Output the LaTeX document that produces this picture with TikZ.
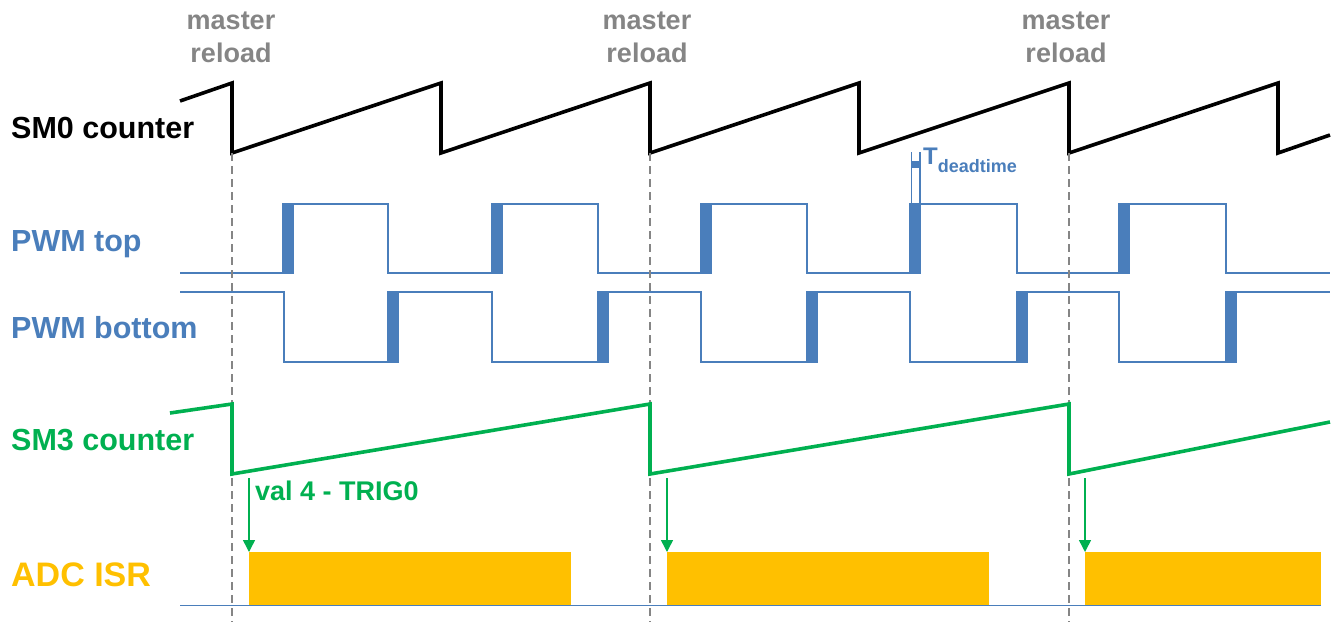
\documentclass[tikz,border=0pt]{standalone}
\usepackage{fontspec}
\setmainfont{Liberation Sans}
\usetikzlibrary{arrows.meta}
\definecolor{pwmblue}{HTML}{4A7EBB}
\definecolor{smgreen}{HTML}{00B050}
\definecolor{adcyellow}{HTML}{FFC000}
\definecolor{mgray}{HTML}{858585}
\tikzset{
  lbl/.style={anchor=base west, inner sep=0pt, font=\bfseries\fontsize{30.5}{31}\selectfont},
  reloadlbl/.style={anchor=base, inner sep=0pt, align=center, text=mgray, font=\bfseries\fontsize{27}{33}\selectfont},
  sm0/.style={draw=black, line width=3.6pt},
  sm3/.style={draw=smgreen, line width=3.6pt},
  pwm/.style={draw=pwmblue, line width=2.6pt},
  dtblock/.style={fill=pwmblue, draw=pwmblue, line width=1pt},
  reloadline/.style={draw=mgray, line width=1.8pt, dash pattern=on 8pt off 5pt},
  adcbox/.style={fill=adcyellow, draw=none, inner sep=0pt, minimum width=#1, minimum height=53pt, anchor=north west},
  trig/.style={draw=smgreen, line width=1.5pt, -{Triangle[length=12pt,width=12pt]}},
}
\begin{document}
\begin{tikzpicture}[x=1pt, y=-1pt]
\useasboundingbox (0,0) rectangle (1334,622);

% master reload labels
\node[reloadlbl] (mr1) at (231,62) {master\\reload};
\node[reloadlbl] (mr2) at (647,62) {master\\reload};
\node[reloadlbl] (mr3) at (1066,62) {master\\reload};

% signal labels
\node[lbl, text=black] (lsm0) at (11,138) {SM0 counter};
\node[lbl, text=pwmblue] (ltop) at (11,251) {PWM top};
\node[lbl, text=pwmblue] (lbot) at (11,338) {PWM bottom};
\node[lbl, text=smgreen] (lsm3) at (11,450) {SM3 counter};
\node[lbl, text=adcyellow, font=\bfseries\fontsize{34}{34}\selectfont] (ladc) at (11,586) {ADC ISR};

% ADC baseline
\draw[draw=pwmblue, line width=1pt] (180,605) -- (1321,605);

% ADC ISR boxes
\node[adcbox=322pt] (adc1) at (249,552) {};
\node[adcbox=322pt] (adc2) at (667,552) {};
\node[adcbox=236pt] (adc3) at (1085,552) {};

% SM0 counter
\draw[sm0] (180,101) -- (232,83) -- (232,153) -- (441,83) -- (441,153) -- (650,83) -- (650,153)
  -- (859,83) -- (859,153) -- (1069,83) -- (1069,153) -- (1278,83) -- (1278,153) -- (1330,135);

% PWM top
\draw[pwm] (180,273) -- (283,273) -- (283,204) -- (388,204) -- (388,273) -- (492,273) -- (492,204)
  -- (598,204) -- (598,273) -- (701,273) -- (701,204) -- (807,204) -- (807,273) -- (910,273)
  -- (910,204) -- (1017,204) -- (1017,273) -- (1119,273) -- (1119,204) -- (1226,204) -- (1226,273) -- (1330,273);
\foreach \x in {283,492,701,910,1119}
  \filldraw[dtblock] (\x,204) rectangle (\x+10,273);

% PWM bottom
\draw[pwm] (180,292) -- (284,292) -- (284,362) -- (388,362) -- (388,292) -- (492,292) -- (492,362)
  -- (598,362) -- (598,292) -- (701,292) -- (701,362) -- (807,362) -- (807,292) -- (910,292)
  -- (910,362) -- (1017,362) -- (1017,292) -- (1119,292) -- (1119,362) -- (1226,362) -- (1226,292) -- (1330,292);
\foreach \x in {388,598,807,1017,1226}
  \filldraw[dtblock] (\x,292) rectangle (\x+10,362);

% deadtime marker
\draw[draw=pwmblue, line width=1.2pt] (911.5,152) -- (911.5,204);
\draw[draw=pwmblue, line width=1.2pt] (920,152) -- (920,204);
\fill[pwmblue] (911.5,161) rectangle (920,168);
\node[anchor=base west, inner sep=0pt, text=pwmblue, font=\bfseries] (tdt) at (923,164)
  {{\fontsize{24}{24}\selectfont T}\raisebox{-8pt}{\fontsize{18}{18}\selectfont deadtime}};

% master reload dashed lines
\coordinate (d1t) at (232,153); \coordinate (d1b) at (232,622);
\coordinate (d2t) at (650,153); \coordinate (d2b) at (650,622);
\coordinate (d3t) at (1069,153); \coordinate (d3b) at (1069,622);
\draw[reloadline] (d1t) -- (d1b);
\draw[reloadline] (d2t) -- (d2b);
\draw[reloadline] (d3t) -- (d3b);

% SM3 counter
\draw[sm3] (170,413) -- (232,404) -- (232,474) -- (650,404) -- (650,474) -- (1069,404) -- (1069,474) -- (1330,422);

% trigger arrows
\coordinate (t1) at (249,478);
\coordinate (t2) at (667,478);
\coordinate (t3) at (1085,478);
\draw[trig] (t1) -- (adc1.north west);
\draw[trig] (t2) -- (adc2.north west);
\draw[trig] (t3) -- (adc3.north west);
\node[anchor=base west, inner sep=0pt, text=smgreen, font=\bfseries\fontsize{27}{27}\selectfont] (val) at (255,500) {val 4 - TRIG0};

\end{tikzpicture}
\end{document}
